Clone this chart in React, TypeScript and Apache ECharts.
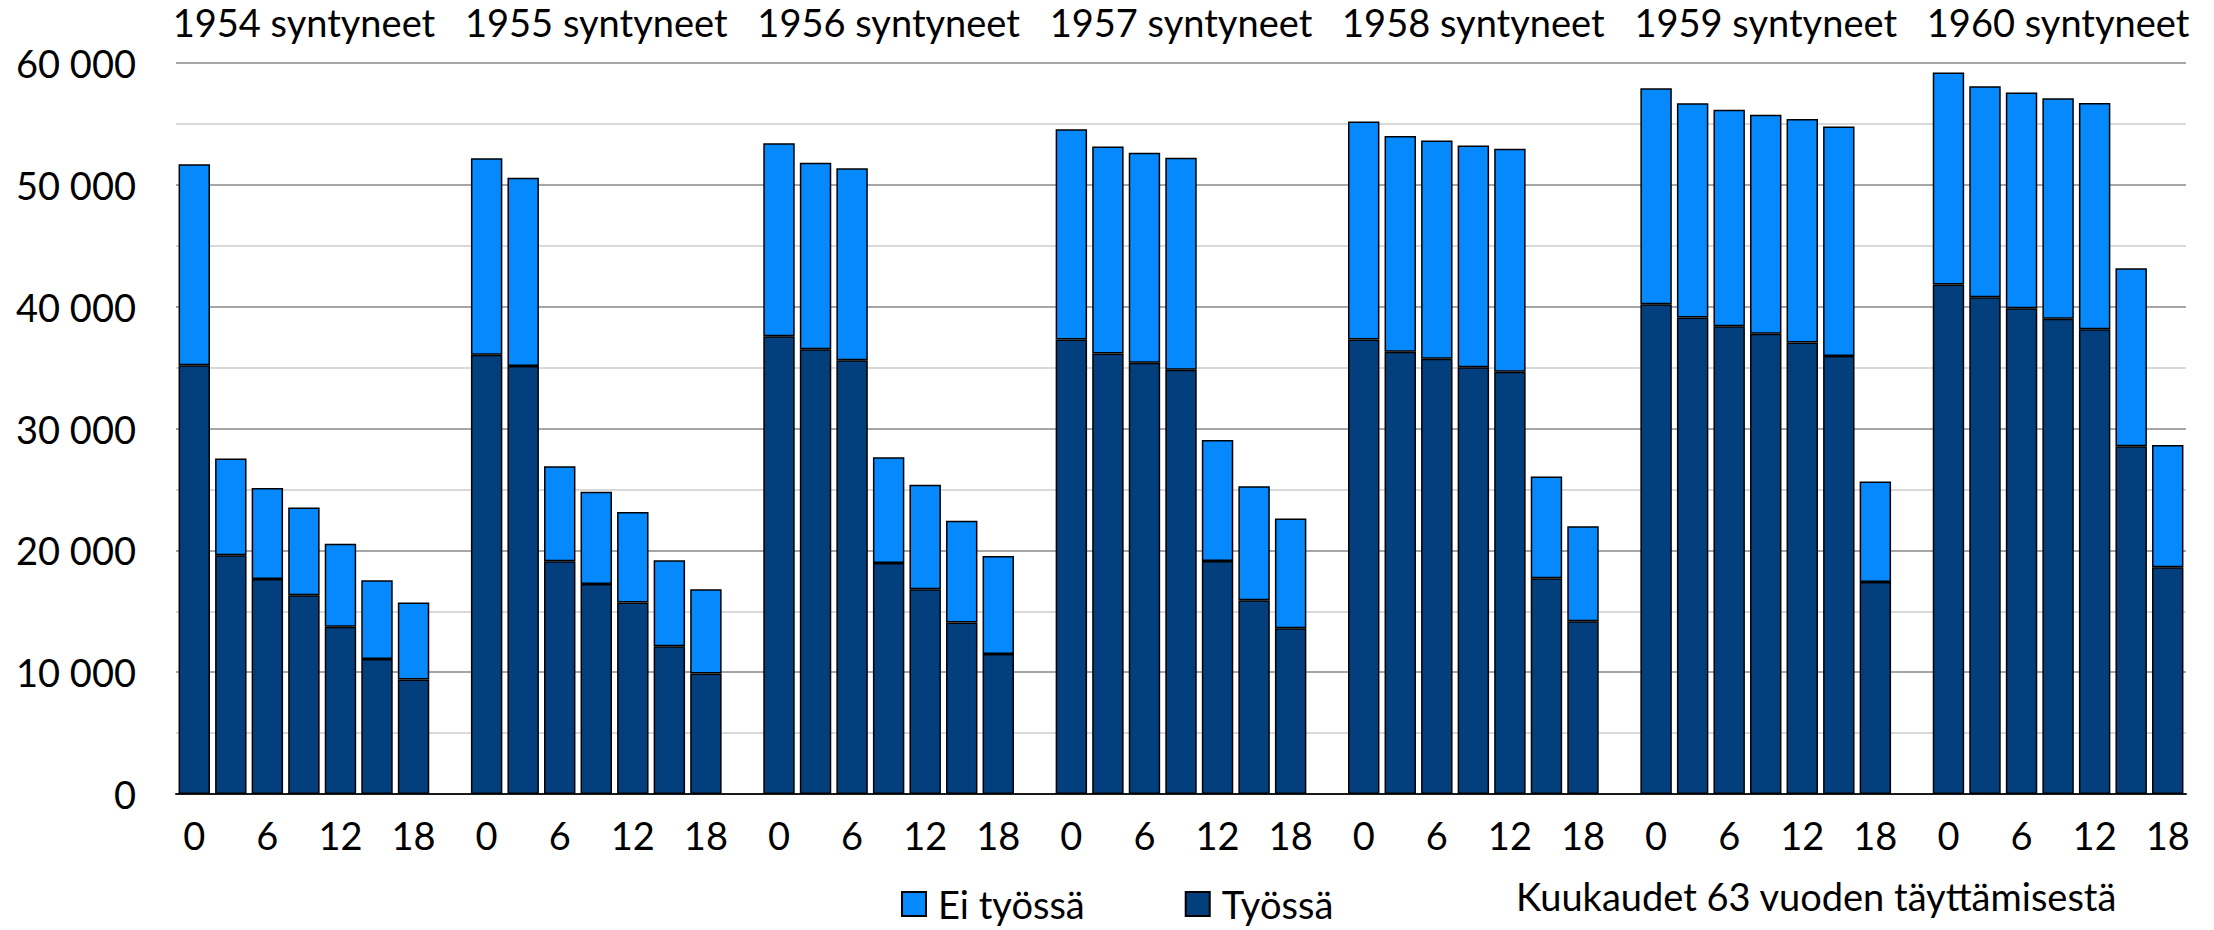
import React, { useEffect, useRef } from "react";
import * as echarts from "echarts";

const cohorts = ["1954", "1955", "1956", "1957", "1958", "1959", "1960"];
const cohortSuffix = " syntyneet";
const months = ["0", "3", "6", "9", "12", "15", "18"];
const tickMonths = ["0", "6", "12", "18"];
const titleMonth = "9";

const tyossa1954 = [35200, 19590, 17650, 16310, 13720, 11090, 9400];
const eiTyossa1954 = [16490, 7950, 7460, 7210, 6830, 6450, 6310];
const tyossa1955 = [36050, 35140, 19100, 17240, 15710, 12130, 9890];
const eiTyossa1955 = [16130, 15450, 7810, 7570, 7430, 7050, 6910];
const tyossa1956 = [37580, 36510, 35610, 18960, 16800, 14070, 11500];
const eiTyossa1956 = [15830, 15310, 15750, 8690, 8580, 8360, 8040];
const tyossa1957 = [37300, 36160, 35390, 34820, 19130, 15900, 13610];
const eiTyossa1957 = [17260, 16980, 17250, 17410, 9930, 9370, 9010];
const tyossa1958 = [37300, 36290, 35720, 35030, 34650, 17700, 14180];
const eiTyossa1958 = [17890, 17720, 17910, 18190, 18320, 8370, 7790];
const tyossa1959 = [40200, 39110, 38400, 37770, 37060, 35960, 17400];
const eiTyossa1959 = [17720, 17580, 17770, 17990, 18350, 18820, 8260];
const tyossa1960 = [41820, 40780, 39870, 39000, 38150, 28550, 18610];
const eiTyossa1960 = [17410, 17310, 17700, 18100, 18570, 14610, 10030];

const tyossaAll = [tyossa1954, tyossa1955, tyossa1956, tyossa1957, tyossa1958, tyossa1959, tyossa1960];
const eiTyossaAll = [eiTyossa1954, eiTyossa1955, eiTyossa1956, eiTyossa1957, eiTyossa1958, eiTyossa1959, eiTyossa1960];

const seriesNames = ["Työssä", "Ei työssä"];
const axisTitle = "Kuukaudet 63 vuoden täyttämisestä";

const FONT = "Lato";
const FS = 38;

function buildCategories() {
  const cats: string[] = [];
  const work: (number | null)[] = [];
  const notWork: (number | null)[] = [];
  cohorts.forEach((c, g) => {
    months.forEach((m, i) => {
      cats.push(c + "|" + m);
      work.push(tyossaAll[g][i]);
      notWork.push(eiTyossaAll[g][i]);
    });
    if (g < cohorts.length - 1) {
      cats.push(c + "|gap");
      work.push(null);
      notWork.push(null);
    }
  });
  return { cats, work, notWork };
}

const fmt = (v: number) => String(v).replace(/\B(?=(\d{3})+(?!\d))/g, " ");

export default function App() {
  const ref = useRef<HTMLDivElement>(null);
  useEffect(() => {
    if (!ref.current) return;
    const chart = echarts.init(ref.current, undefined, { renderer: "svg" });
    const { cats, work, notWork } = buildCategories();
    const textBase = { fontFamily: FONT, fontSize: FS, color: "#000" };
    chart.setOption({
      animation: false,
      backgroundColor: "#fff",
      grid: { left: 176, right: 28, top: 63, bottom: 136, containLabel: false },
      legend: {
        data: ["Ei työssä", "Työssä"],
        left: 901,
        top: 883,
        padding: 0,
        itemWidth: 24,
        itemHeight: 24,
        itemGap: 100,
        icon: "rect",
        textStyle: { ...textBase, lineHeight: 42, padding: [0, 0, 0, 7] },
      },
      xAxis: [
        {
          type: "category",
          data: cats,
          position: "bottom",
          axisLine: { show: true, lineStyle: { color: "#1a1a1a", width: 2 } },
          axisTick: { show: false },
          splitLine: { show: false },
          axisLabel: {
            ...textBase,
            margin: 22,
            interval: (index: number, value: string) => tickMonths.includes(value.split("|")[1]),
            formatter: (value: string) => value.split("|")[1],
          },
        },
        {
          type: "category",
          data: cats,
          position: "top",
          axisLine: { show: false },
          axisTick: { show: false },
          splitLine: { show: false },
          axisLabel: {
            ...textBase,
            margin: 22,
            interval: (index: number, value: string) => value.split("|")[1] === titleMonth,
            formatter: (value: string) => value.split("|")[0] + cohortSuffix,
          },
        },
      ],
      yAxis: {
        type: "value",
        min: 0,
        max: 60000,
        interval: 10000,
        axisLine: { show: false },
        axisTick: { show: false },
        axisLabel: { ...textBase, margin: 40, formatter: (v: number) => fmt(v) },
        splitLine: { show: true, lineStyle: { color: "#a6a6a6", width: 2 } },
        minorTick: { show: false, splitNumber: 2 },
        minorSplitLine: { show: true, lineStyle: { color: "#d9d9d9", width: 2 } },
      },
      series: [
        {
          name: seriesNames[0],
          type: "bar",
          stack: "total",
          xAxisIndex: 0,
          data: work,
          barCategoryGap: "14%",
          itemStyle: { color: "#043f7d", borderColor: "#000", borderWidth: 1.5 },
        },
        {
          name: seriesNames[1],
          type: "bar",
          stack: "total",
          xAxisIndex: 0,
          data: notWork,
          barCategoryGap: "14%",
          itemStyle: { color: "#0789fe", borderColor: "#000", borderWidth: 1.5 },
        },
      ],
      graphic: [
        {
          type: "text",
          left: 1516,
          top: 877,
          style: { text: axisTitle, font: `${FS}px ${FONT}`, fill: "#000" },
        },
      ],
    });
    return () => chart.dispose();
  }, []);
  return (
    <div
      ref={ref}
      style={{ position: "absolute", left: 0, top: 0, width: 2214, height: 930, background: "#fff" }}
    />
  );
}
